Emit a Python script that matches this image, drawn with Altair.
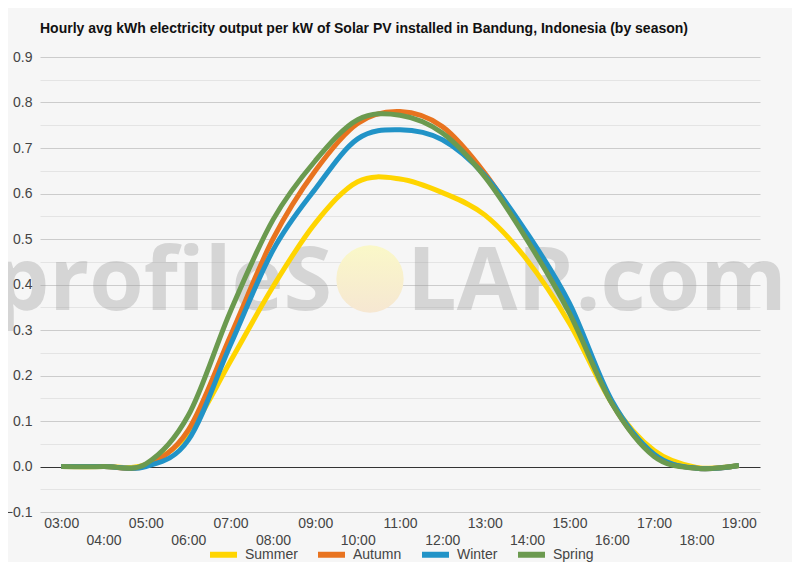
import altair as alt
import pandas as pd

hours = ["03:00", "04:00", "05:00", "06:00", "07:00", "08:00", "09:00", "10:00", "11:00",
         "12:00", "13:00", "14:00", "15:00", "16:00", "17:00", "18:00", "19:00"]
seasons = ["Summer", "Autumn", "Winter", "Spring"]
colors = ["#FFD500", "#E8731F", "#2193C7", "#6B9A4F"]

summer = [0, 0, 0.004, 0.072, 0.232, 0.395, 0.535, 0.626, 0.632, 0.602, 0.553, 0.454, 0.315, 0.140, 0.035, -0.002, 0.002]
autumn = [0, 0, 0.002, 0.080, 0.288, 0.500, 0.650, 0.754, 0.780, 0.747, 0.645, 0.505, 0.348, 0.140, 0.025, -0.004, 0.002]
winter = [0, 0, 0.000, 0.058, 0.268, 0.475, 0.610, 0.720, 0.740, 0.718, 0.640, 0.513, 0.359, 0.145, 0.027, -0.004, 0.002]
spring = [0, 0, 0.006, 0.112, 0.342, 0.542, 0.672, 0.762, 0.772, 0.733, 0.637, 0.498, 0.337, 0.139, 0.022, -0.004, 0.002]

y_ticks = [-0.1, -0.05, 0.0, 0.05, 0.1, 0.15, 0.2, 0.25, 0.3, 0.35, 0.4, 0.45,
           0.5, 0.55, 0.6, 0.65, 0.7, 0.75, 0.8, 0.85, 0.9]

title = "Hourly avg kWh electricity output per kW of Solar PV installed in Bandung, Indonesia (by season)"
font = "Liberation Sans, Arial, sans-serif"

rows = []
for name, vals in zip(seasons, [summer, autumn, winter, spring]):
    for h, v in zip(hours, vals):
        rows.append({"hour": h, "season": name, "value": v})
df = pd.DataFrame(rows)

# watermark
mark_df = pd.DataFrame({"t": ["x"]})
wm_left = alt.Chart(mark_df).mark_text(
    text="profileS", font="Open Sans", fontWeight="bold", fontSize=88,
    align="right", baseline="alphabetic", color="#999999", opacity=0.35,
).encode(x=alt.value(292), y=alt.value(253))
wm_right = alt.Chart(mark_df).mark_text(
    text="LAR.com", font="Open Sans", fontWeight="bold", fontSize=88,
    align="left", baseline="alphabetic", color="#999999", opacity=0.35,
).encode(x=alt.value(367), y=alt.value(253))
sun = alt.Chart(mark_df).mark_circle(
    size=4536, opacity=1,
    color=alt.Gradient(
        gradient="linear",
        stops=[alt.GradientStop(color="#faf8c8", offset=0),
               alt.GradientStop(color="#f6e7d2", offset=1)],
        x1=0, x2=0, y1=0, y2=1,
    ),
).encode(x=alt.value(330), y=alt.value(222))

lines = alt.Chart(df).mark_line(interpolate="cardinal", strokeWidth=5).encode(
    x=alt.X("hour:O", sort=hours,
            scale=alt.Scale(type="point", padding=0.5),
            axis=alt.Axis(title=None, labelAngle=0, ticks=False, domain=False, grid=False,
                          labelFont=font, labelFontSize=14, labelColor="#444444",
                          labelPadding=4, labelBaseline="top", labelLineHeight=17,
                          labelOverlap=False,
                          labelExpr="toNumber(substring(datum.value, 0, 2)) % 2 == 0 ? ['', datum.label] : datum.label")),
    y=alt.Y("value:Q",
            scale=alt.Scale(domain=[-0.1, 0.9], nice=False, zero=False),
            axis=alt.Axis(title=None, values=y_ticks, format=".1f", domain=False, ticks=False,
                          labelFont=font, labelFontSize=14, labelColor="#444444", labelPadding=8,
                          labelExpr="round(datum.value * 20) % 2 != 0 ? '' : datum.label",
                          gridColor={"condition": [
                              {"test": "abs(datum.value) < 0.001", "value": "#333333"},
                              {"test": "round(datum.value * 20) % 2 != 0", "value": "#e4e4e4"}],
                              "value": "#cccccc"})),
    color=alt.Color("season:N", sort=seasons,
                    scale=alt.Scale(domain=seasons, range=colors),
                    legend=alt.Legend(title=None, orient="none", direction="horizontal",
                                      legendX=167, legendY=481,
                                      symbolType="stroke", symbolSize=729, symbolStrokeWidth=6,
                                      labelFont=font, labelFontSize=14, labelColor="#444444",
                                      labelOffset=5, columnPadding=8)),
    detail="season:N",
)

chart = alt.layer(wm_left, wm_right, sun, lines).properties(
    width=720, height=455,
    autosize=alt.AutoSizeParams(type="none"),
    padding={"left": 32, "top": 49, "right": 32, "bottom": 50},
    background="#f6f6f6",
    title=alt.TitleParams(title, anchor="start", frame="group", font=font, fontSize=14,
                          fontWeight="bold", color="#111111", offset=14),
).configure_view(stroke=None)

chart.save("out.html", embed_options={"renderer": "svg", "actions": False})
